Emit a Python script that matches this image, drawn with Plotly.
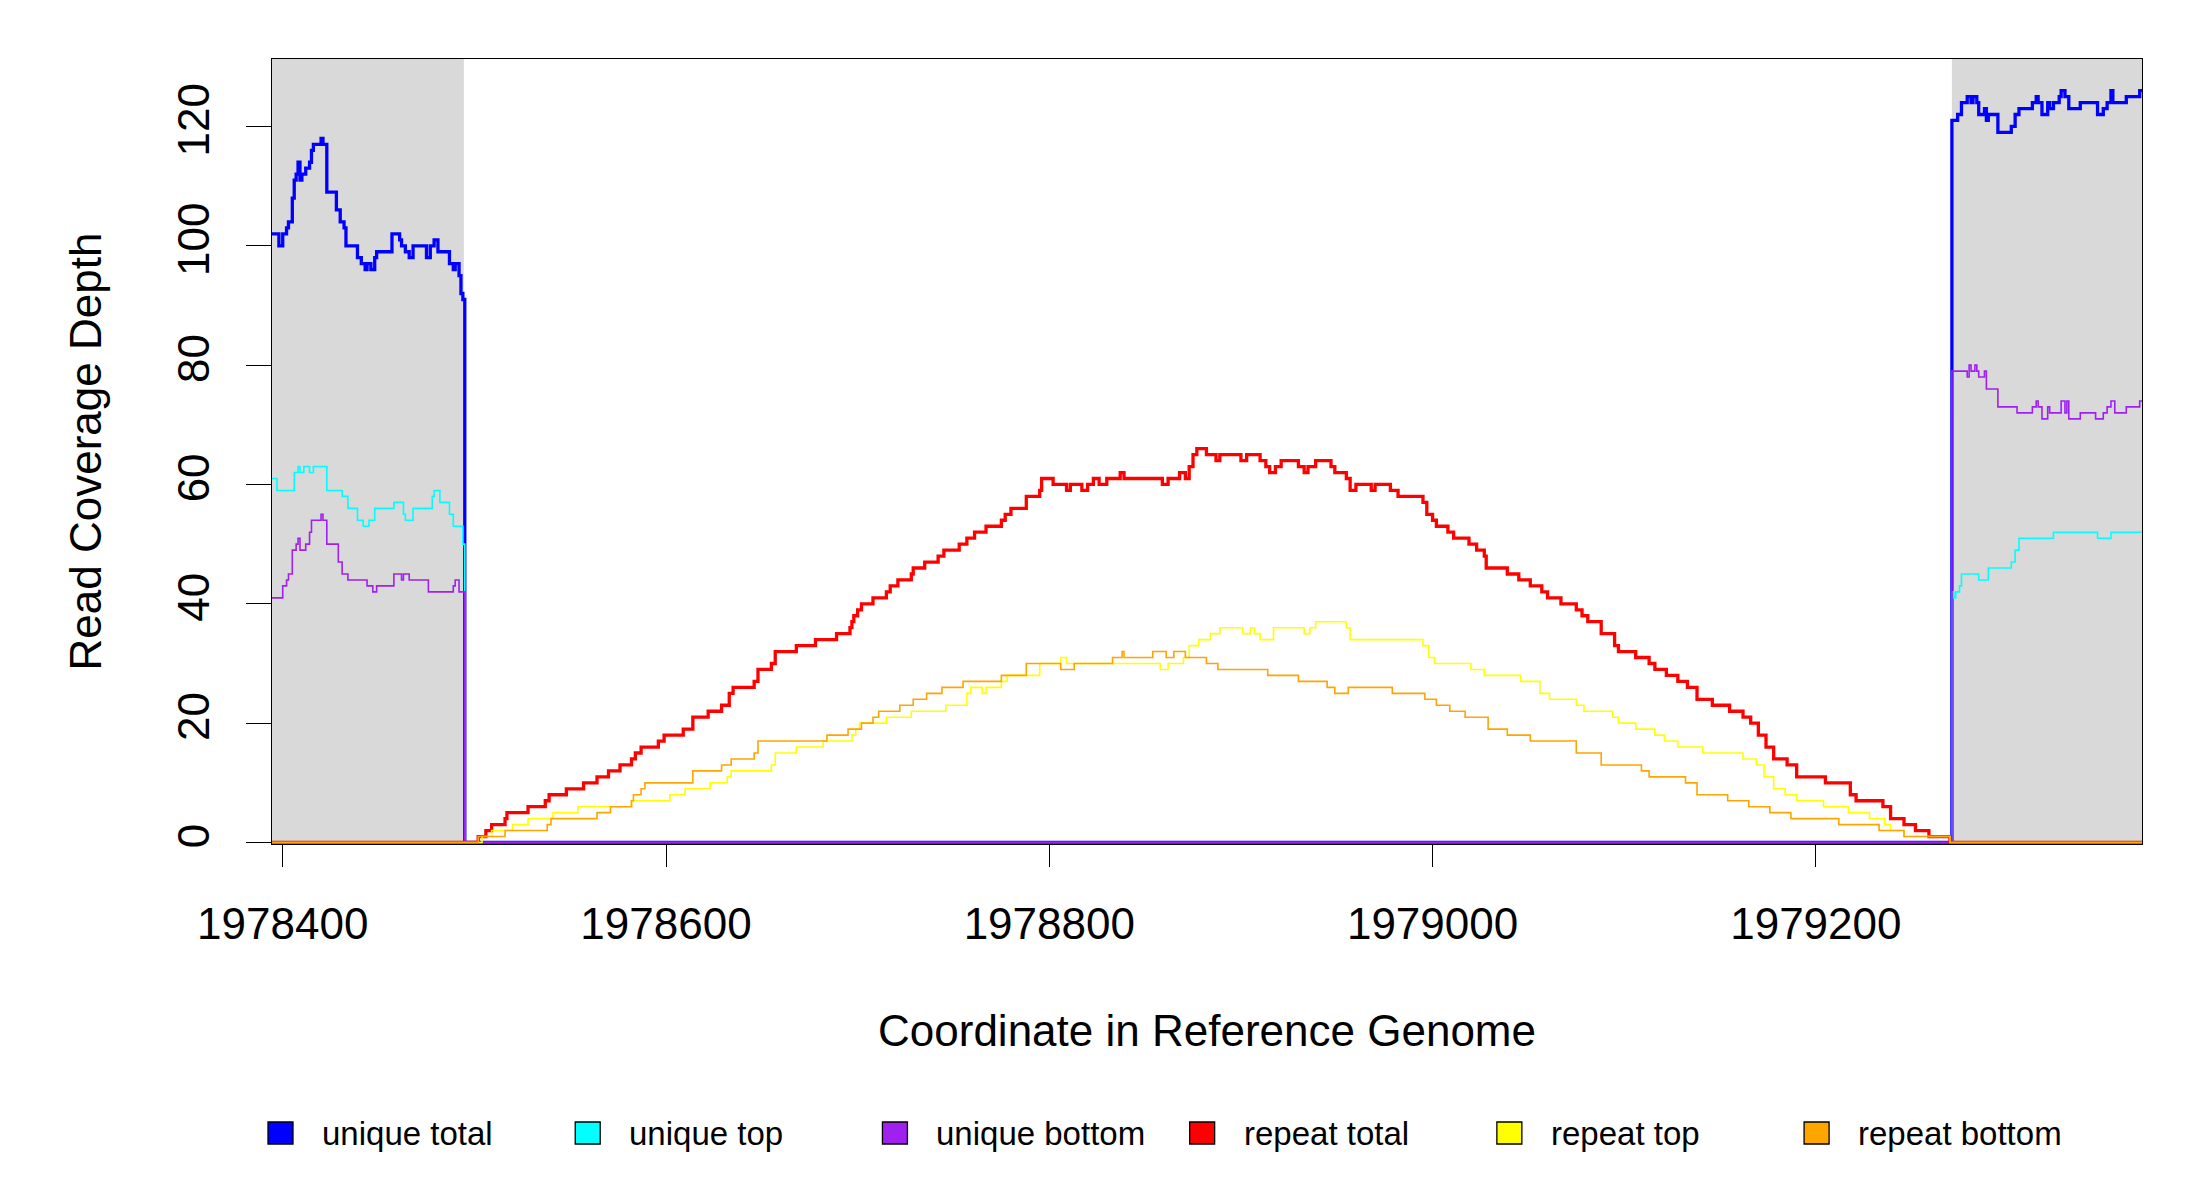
import plotly.graph_objects as go

# ---------------- data ----------------
BASE = 1978400                      # offsets below are relative to this coordinate
X_RANGE = [1978394.4, 1979370.2]
Y_RANGE = [-0.25, 131.3]
REPEAT_START = 1978494.5            # unique coverage drops to 0 here
REPEAT_END = 1979271                # unique coverage resumes here

X_TICKS = [1978400, 1978600, 1978800, 1979000, 1979200]
Y_TICKS = [0, 20, 40, 60, 80, 100, 120]

SERIES_NAMES = ["unique total", "unique top", "unique bottom",
                "repeat total", "repeat top", "repeat bottom"]
SERIES_COLORS = ["#0000FF", "#00FFFF", "#A020F0", "#FF0000", "#FFFF00", "#FFA500"]

unique_total_pos = [-6, -2, 0, 2, 3, 5, 6, 7, 8, 9, 10, 12, 14, 15, 16, 20, 21, 23, 28, 30,
                    32, 33, 39, 41, 43, 44, 46, 48, 49, 57, 61, 62, 64, 66, 68, 75, 77, 79, 81, 87,
                    89, 90, 92, 93, 94, 95, 871, 874, 876, 879, 881, 882, 884, 885, 888, 889,
                    890, 895, 902, 904, 906, 913, 915, 916, 918, 921, 922, 924, 927, 928, 930, 932,
                    938, 947, 950, 952, 954, 955, 962, 969, 971]
unique_total_val = [102, 100, 102, 103, 104, 108, 111, 112, 114, 111, 112, 113, 114, 116, 117, 118, 117, 109, 106, 104,
                    103, 100, 98, 97, 96, 97, 96, 98, 99, 102, 101, 100, 99, 98, 100, 98, 100, 101, 99, 97,
                    96, 97, 95, 92, 91, 0, 121, 122, 124, 125, 124, 125, 124, 122, 123, 121,
                    122, 119, 120, 122, 123, 124, 125, 124, 122, 124, 123, 124, 125, 126, 125, 123,
                    124, 122, 123, 124, 126, 124, 125, 126, 126]

unique_top_pos = [-6, -3, 6, 8, 9, 11, 14, 16, 23, 31, 34, 39, 42, 45, 48, 58, 63, 64, 68, 78,
                  79, 82, 87, 89, 94, 95, 871, 872, 873, 875, 876, 885, 890, 902, 904, 906, 924, 947, 954, 971]
unique_top_val = [61, 59, 62, 63, 62, 63, 62, 63, 59, 58, 56, 54, 53, 54, 56, 57, 55, 54, 56, 58,
                  59, 57, 55, 53, 50, 0, 42, 41, 42, 43, 45, 44, 46, 47, 49, 51, 52, 51, 52, 52]

unique_bottom_pos = [-6, 0, 2, 3, 5, 7, 8, 9, 12, 14, 15, 20, 21, 23, 29, 31, 34, 44, 47, 49,
                     58, 62, 63, 66, 76, 89, 90, 92, 95, 871, 879, 880, 881, 883, 884, 885, 888, 889,
                     895, 905, 913, 915, 916, 918, 921, 922, 928, 930, 931, 932, 938, 946, 950, 952,
                     954, 956, 962, 969, 971]
unique_bottom_val = [41, 43, 44, 45, 49, 50, 51, 49, 50, 52, 54, 55, 54, 50, 47, 45, 44, 43, 42, 43,
                     45, 44, 45, 44, 42, 43, 44, 42, 0, 79, 78, 80, 79, 80, 79, 78, 79, 76,
                     73, 72, 73, 74, 73, 71, 73, 72, 74, 72, 74, 71, 72, 71, 72, 73,
                     74, 72, 73, 74, 74]

repeat_total_pos = [-6, 102, 106, 109, 116, 117, 128, 137, 139, 148, 157, 164, 170, 176, 182, 184, 187, 196, 199, 209,
                    214, 222, 229, 233, 235, 246, 248, 255, 257, 268, 278, 289, 296, 297, 298, 300, 302, 308, 315, 317,
                    321, 328, 329, 335, 342, 345, 353, 357, 361, 367, 375, 377, 380, 388, 395, 396, 402, 409, 411, 417,
                    420, 423, 426, 430, 437, 439, 459, 462, 468, 471, 473, 475, 477, 482, 487, 489, 500, 503, 510, 513,
                    515, 518, 521, 530, 533, 535, 539, 547, 549, 555, 557, 560, 568, 570, 578, 582, 595, 597, 600, 602,
                    608, 611, 619, 623, 627, 628, 639, 645, 651, 657, 660, 667, 675, 678, 681, 688, 695, 697, 706, 713,
                    716, 722, 728, 733, 738, 746, 755, 762, 766, 770, 774, 778, 785, 790, 805, 818, 821, 835, 839, 846,
                    852, 859, 870, 971]
repeat_total_val = [0, 1, 2, 3, 4, 5, 6, 7, 8, 9, 10, 11, 12, 13, 14, 15, 16, 17, 18, 19,
                    21, 22, 23, 25, 26, 27, 29, 30, 32, 33, 34, 35, 36, 37, 38, 39, 40, 41, 42, 43,
                    44, 45, 46, 47, 48, 49, 50, 51, 52, 53, 54, 55, 56, 58, 59, 61, 60, 59, 60, 59,
                    60, 61, 60, 61, 62, 61, 60, 61, 62, 61, 63, 65, 66, 65, 64, 65, 64, 65, 64, 63,
                    62, 63, 64, 63, 62, 63, 64, 63, 62, 61, 59, 60, 59, 60, 59, 58, 57, 55, 54, 53,
                    52, 51, 50, 49, 48, 46, 45, 44, 43, 42, 41, 40, 39, 38, 37, 35, 33, 32, 31, 30,
                    29, 28, 27, 26, 24, 23, 22, 21, 20, 18, 16, 14, 13, 11, 10, 8, 7, 6, 4, 3,
                    2, 1, 0, 0]

repeat_top_pos = [-6, 104, 109, 120, 128, 141, 154, 182, 202, 210, 223, 232, 234, 255, 257, 268, 282, 297, 299, 301,
                  315, 328, 346, 357, 359, 365, 367, 375, 378, 395, 406, 409, 458, 462, 470, 473, 478, 484, 489, 501,
                  505, 507, 510, 517, 533, 536, 539, 555, 557, 595, 598, 601, 620, 627, 646, 656, 661, 675, 679, 694,
                  697, 706, 716, 721, 728, 741, 762, 769, 773, 778, 784, 790, 804, 817, 828, 836, 839, 846, 870, 971]
repeat_top_val = [0, 1, 2, 3, 4, 5, 6, 7, 8, 9, 10, 11, 12, 13, 15, 16, 17, 18, 19, 20,
                  21, 22, 23, 25, 26, 25, 26, 27, 28, 30, 31, 30, 29, 30, 31, 33, 34, 35, 36, 35,
                  36, 35, 34, 36, 35, 36, 37, 36, 34, 33, 31, 30, 29, 28, 27, 25, 24, 23, 22, 21,
                  20, 19, 18, 17, 16, 15, 14, 13, 11, 9, 8, 7, 6, 5, 4, 3, 2, 1, 0, 0]

repeat_bottom_pos = [-6, 102, 116, 138, 140, 164, 171, 182, 183, 187, 189, 214, 229, 234, 246, 248, 284, 295, 302, 308,
                     311, 322, 329, 336, 344, 355, 375, 388, 406, 413, 433, 438, 439, 454, 461, 465, 471, 482, 488, 514,
                     530, 545, 549, 556, 579, 596, 602, 609, 617, 629, 639, 651, 675, 688, 709, 713, 732, 738, 754, 765,
                     776, 787, 812, 833, 846, 870, 971]
repeat_bottom_val = [0, 1, 2, 3, 4, 5, 6, 7, 8, 9, 10, 12, 13, 14, 15, 17, 18, 19, 20, 21,
                     22, 23, 24, 25, 26, 27, 28, 30, 29, 30, 31, 32, 31, 32, 31, 32, 31, 30, 29, 28,
                     27, 26, 25, 26, 25, 24, 23, 22, 21, 19, 18, 17, 15, 13, 12, 11, 10, 8, 7, 6,
                     5, 4, 3, 2, 1, 0, 0]

SERIES_POS = [unique_total_pos, unique_top_pos, unique_bottom_pos,
              repeat_total_pos, repeat_top_pos, repeat_bottom_pos]
SERIES_VAL = [unique_total_val, unique_top_val, unique_bottom_val,
              repeat_total_val, repeat_top_val, repeat_bottom_val]
SERIES_WIDTH = [3.3, 1.6, 1.6, 3.3, 1.6, 1.6]

# ---------------- layout constants (pixels in the 2200x1200 page) ----------------
W, H = 2200, 1200
PL, PR, PT, PB = 264, 2134.5, 51, 836
FONT = "Liberation Sans, Arial, Helvetica, sans-serif"


def px_to_paper_x(px):
    return (px - PL) / (PR - PL)


def px_to_paper_y(py):
    return (PB - py) / (PB - PT)


fig = go.Figure()
for name, pos, val, col, lw in zip(SERIES_NAMES, SERIES_POS, SERIES_VAL, SERIES_COLORS, SERIES_WIDTH):
    fig.add_trace(go.Scatter(
        x=[BASE + p for p in pos], y=val, name=name, mode="lines",
        line=dict(color=col, width=lw, shape="hv"), showlegend=False,
    ))

# grey flanking (unique) regions
for x0, x1 in [(X_RANGE[0], REPEAT_START), (REPEAT_END, X_RANGE[1])]:
    fig.add_shape(type="rect", xref="x", yref="paper", x0=x0, x1=x1, y0=0, y1=1,
                  fillcolor="#D9D9D9", line=dict(width=0), layer="below")

# legend drawn below the plot
LEG_Y = 1125
BOX = 22
for i, (name, col) in enumerate(zip(SERIES_NAMES, SERIES_COLORS)):
    bx = 260 + i * 307.3
    fig.add_shape(type="rect", xref="paper", yref="paper",
                  x0=px_to_paper_x(bx), x1=px_to_paper_x(bx + 25),
                  y0=px_to_paper_y(LEG_Y + BOX / 2), y1=px_to_paper_y(LEG_Y - BOX / 2),
                  fillcolor=col, line=dict(color="black", width=1.3))
    fig.add_annotation(text=name, xref="paper", yref="paper",
                       x=px_to_paper_x(bx + 52), y=px_to_paper_y(LEG_Y),
                       xanchor="left", yanchor="middle", showarrow=False,
                       font=dict(family=FONT, size=33, color="black"))

axis_common = dict(showgrid=False, zeroline=False, showline=True, mirror=True,
                   linecolor="black", linewidth=1.4, ticks="outside", tickcolor="black",
                   tickwidth=1.4, tickfont=dict(family=FONT, size=44, color="black"),
                   title_font=dict(family=FONT, size=44, color="black"), automargin=False)

fig.update_xaxes(range=X_RANGE, tickmode="array", tickvals=X_TICKS,
                 ticktext=[str(t) for t in X_TICKS], ticklen=22, ticklabelstandoff=19,
                 title_text="Coordinate in Reference Genome", title_standoff=68, **axis_common)
fig.update_yaxes(range=Y_RANGE, tickmode="array", tickvals=Y_TICKS,
                 ticktext=[str(t) for t in Y_TICKS], ticklen=25, tickangle=-90, ticklabelstandoff=19,
                 title_text="Read Coverage Depth", title_standoff=53, **axis_common)

fig.update_layout(width=W, height=H, margin=dict(l=PL, r=W - PR, t=PT, b=H - PB),
                  paper_bgcolor="white", plot_bgcolor="white", showlegend=False,
                  font=dict(family=FONT, color="black"))

fig.write_html("out.html")
